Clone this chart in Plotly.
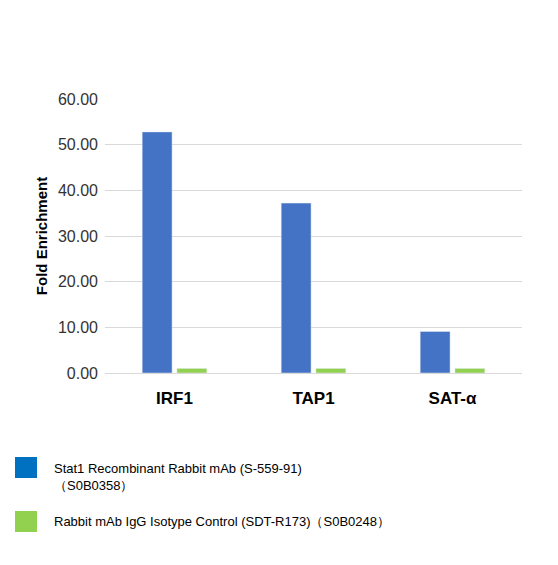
import plotly.graph_objects as go

categories = ["IRF1", "TAP1", "SAT-α"]
stat1 = [52.8, 37.2, 9.1]
igg = [1.0, 1.0, 1.0]
names = ["Stat1 Recombinant Rabbit mAb (S-559-91)<br>（S0B0358）",
         "Rabbit mAb IgG Isotype Control (SDT-R173)（S0B0248）"]
colors = ["#4472C4", "#92D050"]
legend_colors = ["#0070C0", "#92D050"]

L, T, PW, PH = 97, 91, 417, 274
def px(x): return (x - L) / PW
def py(y): return (T + PH - y) / PH

fig = go.Figure()
fig.add_bar(x=categories, y=stat1, name=names[0], marker_color=colors[0])
fig.add_bar(x=categories, y=igg, name=names[1], marker_color=colors[1])

shapes, anns = [], []
for i, (y0, ty) in enumerate([(449, 460), (503, 513)]):
    shapes.append(dict(type="rect", xref="paper", yref="paper",
                       x0=px(7), x1=px(29), y0=py(y0 + 21), y1=py(y0),
                       fillcolor=legend_colors[i], line=dict(width=0)))
    anns.append(dict(xref="paper", yref="paper", x=px(44), y=py(ty - 9),
                     xanchor="left", yanchor="top", align="left", showarrow=False,
                     text=names[i], font=dict(size=13, color="#000")))

fig.update_layout(
    width=550, height=557, plot_bgcolor="white", paper_bgcolor="white",
    margin=dict(l=L, r=36, t=T, b=192),
    barmode="group", bargap=0.5, bargroupgap=0.14, showlegend=False,
    font=dict(family="Arial, Liberation Sans", color="#222"),
    shapes=shapes, annotations=anns,
    yaxis=dict(range=[0, 60], dtick=10, tickformat=".2f", gridcolor="#d9d9d9",
               tickfont=dict(size=16, color="#333"), ticklabelstandoff=6,
               title=dict(text="<b>Fold Enrichment</b>", font=dict(size=15, color="#000"), standoff=6)),
    xaxis=dict(showline=True, linecolor="#d9d9d9", tickfont=dict(size=17, color="#000"),
               ticktext=["<b>%s</b>" % c for c in categories], tickvals=categories,
               ticklabelstandoff=10),
)
fig.write_html("out.html")
